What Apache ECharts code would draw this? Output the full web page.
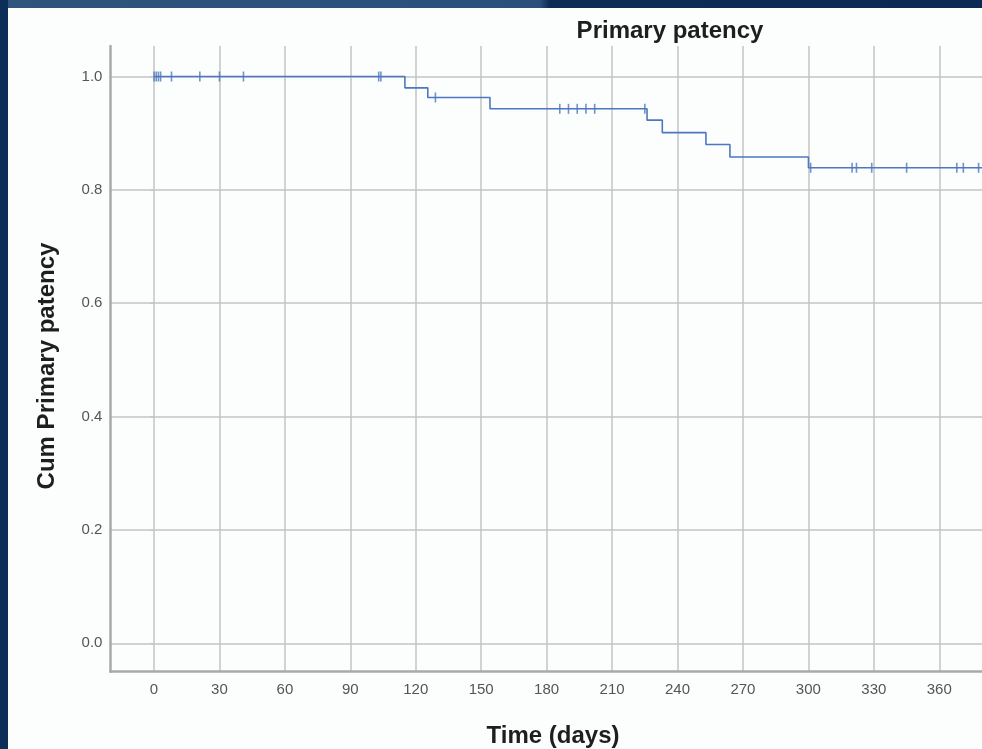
<!DOCTYPE html>
<html>
<head>
<meta charset="utf-8">
<script src="https://cdn.jsdelivr.net/npm/echarts@6/dist/echarts.min.js"></script>
<style>
html,body{margin:0;padding:0;background:#0b2a57;}
#c{width:982px;height:749px;}
</style>
</head>
<body>
<div id="c"></div>
<script>
// ---- data ----
const titleText = 'Primary patency';
const xName = 'Time (days)';
const yName = 'Cum Primary patency';
const xTicks = [0, 30, 60, 90, 120, 150, 180, 210, 240, 270, 300, 330, 360, 390];
const yTicks = [0.0, 0.2, 0.4, 0.6, 0.8, 1.0];
// Kaplan-Meier steps: survival value from each time onward
const stepTimes = [0, 115, 125.5, 154, 226, 233, 253, 264, 300, 400];
const stepSurv  = [1.000, 0.980, 0.963, 0.943, 0.923, 0.901, 0.880, 0.858, 0.839, 0.839];
// censored observations (times)
const censorTimes = [0, 1, 2, 3, 8, 21, 30, 41, 103, 104, 129, 186, 190, 194, 198, 202, 225,
                     301, 320, 322, 329, 345, 368, 371, 378];

function survAt(t) {
  let s = stepSurv[0];
  for (let i = 0; i < stepTimes.length; i++) { if (stepTimes[i] <= t) s = stepSurv[i]; }
  return s;
}
const lineData = stepTimes.map((t, i) => [t, stepSurv[i]]);
const censorData = censorTimes.map(t => [t, survAt(t)]);

const FONT = "'Liberation Sans', Arial, sans-serif";
const gridColor = '#c3c3c3';
const axisColor = '#a9a9a9';
const blue = '#4d77c0';

const chart = echarts.init(document.getElementById('c'), null, {renderer: 'canvas'});
chart.setOption({
  animation: false,
  backgroundColor: '#fcfdfd',
  title: {
    text: titleText, left: 665, top: 14, textAlign: 'center',
    textStyle: {fontFamily: FONT, fontSize: 24, fontWeight: 'bold', color: '#1e1e1e'}
  },
  grid: [
    {left: 110.4, right: -44.6, top: 45.9, bottom: 77.3, containLabel: false, outerBoundsMode: 'none'},
    {left: 154, right: -22.7, top: 45.9, bottom: 77.3, containLabel: false, outerBoundsMode: 'none'},
    {left: 110.4, right: -44.6, top: 76.5, bottom: 105.7, containLabel: false, outerBoundsMode: 'none'}
  ],
  xAxis: [
    {gridIndex: 0, type: 'value', min: -20, max: 400,
     axisLine: {show: true, onZero: false, lineStyle: {color: axisColor, width: 2.5}},
     axisTick: {show: false}, axisLabel: {show: false}, splitLine: {show: false}},
    {gridIndex: 1, type: 'value', min: xTicks[0], max: xTicks[xTicks.length - 1],
     interval: xTicks[1] - xTicks[0],
     axisLine: {show: false}, axisTick: {show: false},
     axisLabel: {show: true, margin: 11, fontFamily: FONT, fontSize: 15, color: '#555'},
     splitLine: {show: true, lineStyle: {color: gridColor, width: 1.5}}},
    {gridIndex: 2, type: 'value', min: -20, max: 400, show: false}
  ],
  yAxis: [
    {gridIndex: 0, type: 'value', min: -0.05, max: 1.054,
     axisLine: {show: true, onZero: false, lineStyle: {color: axisColor, width: 2.5}},
     axisTick: {show: false}, axisLabel: {show: false}, splitLine: {show: false}},
    {gridIndex: 1, type: 'value', min: 0, max: 1, show: false},
    {gridIndex: 2, type: 'value', min: yTicks[0], max: yTicks[yTicks.length - 1],
     interval: yTicks[1] - yTicks[0],
     axisLine: {show: false},
     axisTick: {show: true, length: 4, lineStyle: {color: gridColor}},
     axisLabel: {show: true, margin: 8, fontFamily: FONT, fontSize: 15, color: '#555',
                 padding: [6, 0, 0, 0], formatter: v => v.toFixed(1)},
     splitLine: {show: true, lineStyle: {color: gridColor, width: 1.5}}}
  ],
  graphic: [
    {type: 'text', x: 553, y: 736, z: 100,
     style: {text: xName, font: "bold 24px 'Liberation Sans', Arial, sans-serif",
             fill: '#1e1e1e', align: 'center', verticalAlign: 'middle'}},
    {type: 'text', x: 47, y: 366, rotation: Math.PI / 2, z: 100,
     style: {text: yName, font: "bold 24px 'Liberation Sans', Arial, sans-serif",
             fill: '#1e1e1e', align: 'center', verticalAlign: 'middle'}},
    {type: 'rect', shape: {x: 0, y: 0, width: 982, height: 8}, z: 100,
     style: {fill: new echarts.graphic.LinearGradient(0, 0, 1, 0,
       [{offset: 0, color: '#2f557f'}, {offset: 0.55, color: '#2a4f7a'}, {offset: 0.56, color: '#0c2c57'}, {offset: 1, color: '#0a2a55'}])}},
    {type: 'rect', shape: {x: 0, y: 0, width: 8, height: 749}, z: 100,
     style: {fill: '#0e2e5a'}}
  ],
  series: [
    {type: 'line', xAxisIndex: 0, yAxisIndex: 0, step: 'end', data: lineData,
     showSymbol: false, symbol: 'none', lineStyle: {color: blue, width: 1.6}, z: 3},
    {type: 'scatter', xAxisIndex: 0, yAxisIndex: 0, data: censorData,
     symbol: 'rect', symbolSize: [1.6, 10], itemStyle: {color: blue}, z: 4}
  ]
});
</script>
</body>
</html>
